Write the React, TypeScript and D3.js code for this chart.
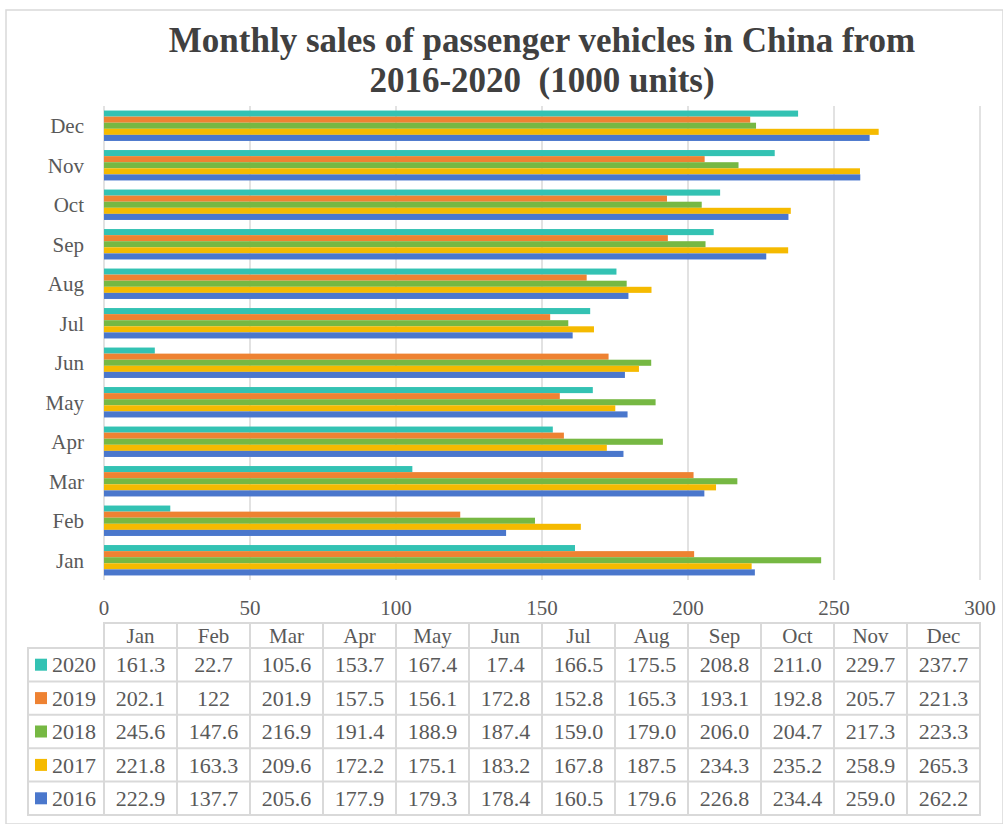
import React from 'react';
import * as d3 from 'd3';

const months = ['Jan', 'Feb', 'Mar', 'Apr', 'May', 'Jun', 'Jul', 'Aug', 'Sep', 'Oct', 'Nov', 'Dec'];
const years = ['2020', '2019', '2018', '2017', '2016'];
const sales2020 = [161.3, 22.7, 105.6, 153.7, 167.4, 17.4, 166.5, 175.5, 208.8, 211.0, 229.7, 237.7];
const sales2019 = [202.1, 122, 201.9, 157.5, 156.1, 172.8, 152.8, 165.3, 193.1, 192.8, 205.7, 221.3];
const sales2018 = [245.6, 147.6, 216.9, 191.4, 188.9, 187.4, 159.0, 179.0, 206.0, 204.7, 217.3, 223.3];
const sales2017 = [221.8, 163.3, 209.6, 172.2, 175.1, 183.2, 167.8, 187.5, 234.3, 235.2, 258.9, 265.3];
const sales2016 = [222.9, 137.7, 205.6, 177.9, 179.3, 178.4, 160.5, 179.6, 226.8, 234.4, 259.0, 262.2];
const tableLabels = [
  ['161.3', '22.7', '105.6', '153.7', '167.4', '17.4', '166.5', '175.5', '208.8', '211.0', '229.7', '237.7'],
  ['202.1', '122', '201.9', '157.5', '156.1', '172.8', '152.8', '165.3', '193.1', '192.8', '205.7', '221.3'],
  ['245.6', '147.6', '216.9', '191.4', '188.9', '187.4', '159.0', '179.0', '206.0', '204.7', '217.3', '223.3'],
  ['221.8', '163.3', '209.6', '172.2', '175.1', '183.2', '167.8', '187.5', '234.3', '235.2', '258.9', '265.3'],
  ['222.9', '137.7', '205.6', '177.9', '179.3', '178.4', '160.5', '179.6', '226.8', '234.4', '259.0', '262.2'],
];
const xTicks = [0, 50, 100, 150, 200, 250, 300];
const seriesValues = [sales2020, sales2019, sales2018, sales2017, sales2016];
const colors = ['#33C2B3', '#EE8232', '#76B843', '#F5BA00', '#4A77CC'];

const W = 1003;
const H = 824;
const FONT = '"Liberation Serif", "Times New Roman", serif';
const TXT = '#595959';
const GRID = '#D9D9D9';

export default function App() {
  const x = d3.scaleLinear().domain([0, 300]).range([104, 980]);
  const y = d3.scaleBand<string>().domain(months).range([580, 106]).paddingInner(0.23).paddingOuter(0.115);
  const sub = d3.scaleBand<string>().domain(years).range([0, y.bandwidth()]).padding(0);

  const tableTop = 623;
  const headerH = 25;
  const rowH = 33.4;
  const legendLeft = 28;
  const colW = (x(300) - x(0)) / months.length;
  const colX = d3.scaleBand<string>().domain(months).range([x(0), x(300)]);

  return (
    <svg width={W} height={H} style={{ position: 'absolute', left: 0, top: 0, background: '#fff' }} fontFamily={FONT}>
      <rect x={6} y={10} width={W - 6} height={H - 10} fill="#fff" stroke={GRID} strokeWidth={1.5} />
      <text x={542} y={52} textAnchor="middle" fontSize={35} fontWeight="bold" fill="#404040">
        Monthly sales of passenger vehicles in China from
      </text>
      <text x={542} y={92} textAnchor="middle" fontSize={35} fontWeight="bold" fill="#404040" style={{ whiteSpace: 'pre' }}>
        {'2016-2020  (1000 units)'}
      </text>

      {xTicks.map((t) => (
        <line key={'g' + t} x1={x(t)} x2={x(t)} y1={106} y2={580} stroke={GRID} strokeWidth={1.5} />
      ))}

      {months.map((m, i) => (
        <g key={m} transform={`translate(0,${y(m)})`}>
          {years.map((yr, j) => (
            <rect
              key={yr}
              x={x(0)}
              y={sub(yr)}
              width={x(seriesValues[j][i]) - x(0)}
              height={sub.bandwidth()}
              fill={colors[j]}
            />
          ))}
          <text x={84} y={y.bandwidth() / 2} dy="0.35em" textAnchor="end" fontSize={21} fill={TXT}>
            {m}
          </text>
        </g>
      ))}

      {xTicks.map((t) => (
        <text key={'t' + t} x={x(t)} y={615} textAnchor="middle" fontSize={21} fill={TXT}>
          {t}
        </text>
      ))}

      {/* data table */}
      <g stroke={GRID} strokeWidth={2} fill="none">
        <rect x={x(0)} y={tableTop} width={x(300) - x(0)} height={headerH} />
        {months.map((m) => (
          <line key={'v' + m} x1={colX(m)} x2={colX(m)} y1={tableTop} y2={tableTop + headerH + rowH * 5} />
        ))}
        <rect x={legendLeft} y={tableTop + headerH} width={x(300) - legendLeft} height={rowH * 5} />
        {years.map((yr, j) => (
          <line key={'h' + yr} x1={legendLeft} x2={x(300)} y1={tableTop + headerH + rowH * j} y2={tableTop + headerH + rowH * j} />
        ))}
      </g>
      {months.map((m) => (
        <text key={'hd' + m} x={(colX(m) as number) + colW / 2} y={tableTop + headerH / 2} dy="0.35em" textAnchor="middle" fontSize={21} fill={TXT}>
          {m}
        </text>
      ))}
      {years.map((yr, j) => {
        const cy = tableTop + headerH + rowH * j + rowH / 2;
        return (
          <g key={'r' + yr}>
            <rect x={35} y={cy - 6} width={12} height={12} fill={colors[j]} />
            <text x={52} y={cy} dy="0.35em" fontSize={22} fill={TXT}>
              {yr}
            </text>
            {months.map((m, i) => (
              <text key={m} x={(colX(m) as number) + colW / 2} y={cy} dy="0.35em" textAnchor="middle" fontSize={22} fill={TXT}>
                {tableLabels[j][i]}
              </text>
            ))}
          </g>
        );
      })}
    </svg>
  );
}
